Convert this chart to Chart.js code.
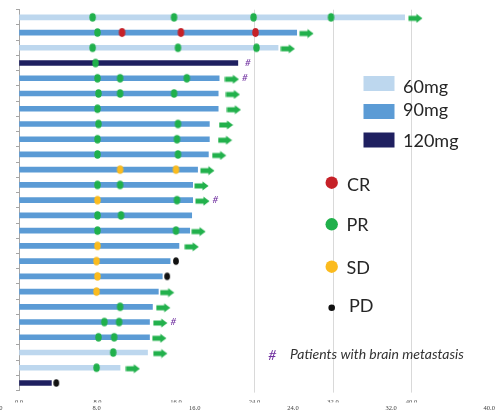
<!DOCTYPE html>
<html>
<head>
<meta charset="utf-8">
<script src="https://cdn.jsdelivr.net/npm/chart.js@4/dist/chart.umd.min.js"></script>
<style>
  html, body { margin: 0; padding: 0; background: #ffffff; }
  canvas { display: block; }
</style>
</head>
<body>
<canvas id="swimmer" width="498" height="414"></canvas>
<script>
// Swimmer plot: time on treatment (months) per patient, with response assessments.
const patients = ['P1','P2','P3','P4','P5','P6','P7','P8','P9','P10','P11','P12','P13',
                  'P14','P15','P16','P17','P18','P19','P20','P21','P22','P23','P24','P25'];
const doses = ['60mg','90mg','60mg','120mg','90mg','90mg','90mg','90mg','90mg','90mg','90mg','90mg','90mg',
               '90mg','90mg','90mg','90mg','90mg','90mg','90mg','90mg','90mg','60mg','60mg','120mg'];
const durations = [39.3, 28.3, 26.4, 22.3, 20.4, 20.3, 20.3, 19.4, 19.4, 19.3, 18.2, 17.7, 17.7,
                   17.6, 17.4, 16.3, 15.4, 14.6, 14.2, 13.6, 13.3, 13.3, 13.1, 10.3, 3.3];
// Position (months) of the "still on treatment" arrow; null when treatment ended
const ongoingArrows = [40.4, 29.3, 27.4, null, 21.7, 21.8, 21.9, 21.1, 21.0, 20.4, 19.2, 18.6, 18.7,
                       null, 18.3, 17.6, null, null, 15.1, 14.7, 14.4, 14.3, 14.4, 11.6, null];
// Response assessments: [patient row, month]
const crEvents = [[1,10.5],[1,16.5],[1,24.1]];
const prEvents = [[0,7.5],[0,15.8],[0,23.9],[0,31.8],[1,8.0],[2,7.5],[2,16.2],[2,24.2],[3,7.8],
                  [4,8.0],[4,10.3],[4,17.1],[5,8.1],[5,10.3],[5,15.8],[6,8.0],[7,8.1],[7,16.2],
                  [8,8.0],[8,16.1],[9,8.0],[9,16.2],[11,8.0],[11,10.3],[12,16.1],[13,8.0],[13,10.4],
                  [14,8.0],[14,16.0],[19,10.3],[20,8.7],[20,10.2],[21,8.1],[21,9.7],[22,9.6],[23,7.9]];
const sdEvents = [[10,10.3],[10,16.0],[12,8.0],[15,8.0],[16,7.9],[17,8.0],[18,7.9]];
const pdEvents = [[16,16.0],[17,15.1],[24,3.8]];
// Rows of patients with brain metastasis
const brainMets = [3, 4, 12, 20];
const tickValues = [0, 8, 16, 24, 32, 40];

const doseColors = { '60mg': '#bdd7ee', '90mg': '#5b9bd5', '120mg': '#1f2060' };
const responseColors = { CR: '#c62128', PR: '#20b04b', SD: '#fbbb1e', PD: '#111111' };
const arrowColor = '#22b14c';

function dotImage(color, w, h) {
  const c = document.createElement('canvas');
  c.width = Math.ceil(w) + 2; c.height = Math.ceil(h) + 2;
  const g = c.getContext('2d');
  g.fillStyle = color;
  g.beginPath();
  g.ellipse(c.width / 2, c.height / 2, w / 2, h / 2, 0, 0, Math.PI * 2);
  g.fill();
  return c;
}
function arrowImage(color) {
  const c = document.createElement('canvas');
  c.width = 15; c.height = 12;
  const g = c.getContext('2d');
  g.fillStyle = color;
  g.fillRect(0.5, 4.5, 8.5, 5);
  g.beginPath();
  g.moveTo(8.5, 2.5); g.lineTo(14.5, 7); g.lineTo(8.5, 11.5);
  g.closePath(); g.fill();
  return c;
}

const toPoints = ev => ev.map(([row, m]) => ({ x: m, y: patients[row] }));
const arrowPoints = ongoingArrows
  .map((m, i) => (m === null ? null : { x: m, y: patients[i] }))
  .filter(p => p !== null);

const fmt = v => Number(v).toFixed(1);

// Legend, response key and brain-metastasis marks
const swimmerDecor = {
  id: 'swimmerDecor',
  afterDatasetsDraw(chart) {
    const { ctx, scales: { x, y } } = chart;
    ctx.save();
    ctx.fillStyle = '#7030a0';
    ctx.font = 'italic 10px Lato';
    ctx.textAlign = 'center';
    ctx.textBaseline = 'middle';
    brainMets.forEach(i => {
      const px = ongoingArrows[i] !== null
        ? x.getPixelForValue(ongoingArrows[i]) + 13
        : x.getPixelForValue(durations[i]) + 10;
      ctx.fillText('#', px, y.getPixelForValue(i));
    });
    ctx.restore();
  },
  afterDraw(chart) {
    const { ctx } = chart;
    ctx.save();
    // dose key
    const doseKey = [['60mg', 76, 92.7], ['90mg', 104, 116.3], ['120mg', 132.5, 146.7]];
    ctx.font = '18px Lato';
    ctx.textBaseline = 'alphabetic';
    ctx.textAlign = 'left';
    doseKey.forEach(([label, top, base]) => {
      ctx.fillStyle = doseColors[label];
      ctx.fillRect(363.5, top, 31, 15);
      ctx.fillStyle = '#262626';
      ctx.fillText(label, 403, base);
    });
    // response key
    const respKey = [['CR', 182.7, 6.2, 347, 190.7], ['PR', 224.3, 6.2, 346.5, 230.7],
                     ['SD', 266.7, 6.2, 346.5, 274], ['PD', 307.7, 3.3, 349, 311.7]];
    respKey.forEach(([label, cy, r, tx, base]) => {
      ctx.fillStyle = responseColors[label];
      ctx.beginPath();
      ctx.arc(331.7, cy, r, 0, Math.PI * 2);
      ctx.fill();
      ctx.fillStyle = '#262626';
      ctx.fillText(label, tx, base);
    });
    // footnote
    ctx.font = 'italic 14px Lato';
    ctx.fillStyle = '#7030a0';
    ctx.textAlign = 'center';
    ctx.fillText('#', 272.3, 360);
    ctx.textAlign = 'left';
    ctx.fillStyle = '#333333';
    ctx.fillText('Patients with brain metastasis', 290, 358.7);
    ctx.restore();
  }
};

function build() {
  new Chart(document.getElementById('swimmer'), {
    data: {
      labels: patients,
      datasets: [
        {
          type: 'scatter', label: 'CR', data: toPoints(crEvents), order: 1,
          pointStyle: dotImage(responseColors.CR, 6.5, 8.8), pointRadius: 4
        },
        {
          type: 'scatter', label: 'PR', data: toPoints(prEvents), order: 1,
          pointStyle: dotImage(responseColors.PR, 6.5, 8.5), pointRadius: 4
        },
        {
          type: 'scatter', label: 'SD', data: toPoints(sdEvents), order: 1,
          pointStyle: dotImage(responseColors.SD, 6.5, 8.5), pointRadius: 4
        },
        {
          type: 'scatter', label: 'PD', data: toPoints(pdEvents), order: 1,
          pointStyle: dotImage(responseColors.PD, 5.8, 7.6), pointRadius: 4
        },
        {
          type: 'scatter', label: 'Ongoing', data: arrowPoints, order: 2,
          pointStyle: arrowImage(arrowColor), pointRadius: 7
        },
        {
          type: 'bar', label: 'Duration', data: durations, order: 3,
          indexAxis: 'y',
          backgroundColor: doses.map(d => doseColors[d]),
          borderWidth: 0, barThickness: 5
        }
      ]
    },
    options: {
      indexAxis: 'y',
      responsive: false,
      animation: false,
      events: [],
      layout: { padding: { left: 19, right: 5.7, top: 9.7, bottom: 0 } },
      plugins: { legend: { display: false }, tooltip: { enabled: false } },
      scales: {
        y: {
          type: 'category', labels: patients, offset: true,
          grid: { offset: true, drawOnChartArea: false, drawTicks: true, tickLength: 3, color: '#a6a6a6' },
          border: { display: true, color: '#a6a6a6', width: 1 },
          ticks: { display: false },
          afterFit: s => { s.width = 0; }
        },
        x: {
          type: 'linear', position: 'bottom', min: 0, max: 48, weight: 0,
          afterBuildTicks: s => { s.ticks = tickValues.map(v => ({ value: v })); },
          grid: {
            color: c => (c.tick && c.tick.value >= 24 ? '#d9d9d9' : 'rgba(0,0,0,0)'),
            drawTicks: true, tickLength: 2, lineWidth: 1
          },
          border: { display: false },
          ticks: {
            font: { family: "'Liberation Serif', serif", size: 6.5 },
            color: '#404040', padding: 6, autoSkip: false, maxRotation: 0,
            callback: v => fmt(v)
          },
          afterFit: s => { s.height = 12; s.paddingLeft = 0; s.paddingRight = 0; }
        },
        x2: {
          type: 'linear', position: 'bottom', min: 1.67, max: 40.06, weight: 1,
          afterBuildTicks: s => { s.ticks = tickValues.map(v => ({ value: v })); },
          grid: { display: false, drawTicks: false },
          border: { display: false },
          ticks: {
            font: { family: "'Liberation Serif', serif", size: 6.5 },
            color: '#404040', padding: 1.8, autoSkip: false, maxRotation: 0,
            callback: v => fmt(v)
          },
          afterFit: s => { s.height = 11.4; s.paddingLeft = 0; s.paddingRight = 0; }
        }
      }
    },
    plugins: [swimmerDecor]
  });
}

Promise.all([
  document.fonts.load('18px Lato'),
  document.fonts.load('italic 14px Lato'),
  document.fonts.load("6.5px 'Liberation Serif'")
]).then(build, build);
</script>
</body>
</html>
